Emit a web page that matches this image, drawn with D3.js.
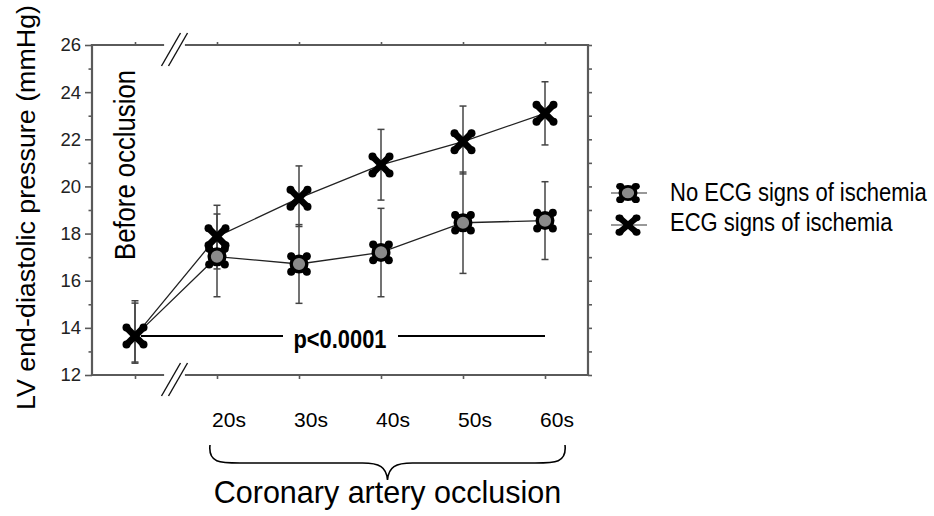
<!DOCTYPE html>
<html>
<head>
<meta charset="utf-8">
<script src="https://cdn.jsdelivr.net/npm/d3@7"></script>
<style>
  html, body { margin: 0; padding: 0; background: #fff; }
  svg { display: block; font-family: "Liberation Sans", Arial, Helvetica, sans-serif; }
</style>
</head>
<body>
<svg id="chart" width="934" height="516"></svg>
<script>
// Time points: baseline before occlusion, then seconds into coronary occlusion
const timepoints = ["Before", "20s", "30s", "40s", "50s", "60s"];
const timeLabels = ["20s", "30s", "40s", "50s", "60s"];

// LV end-diastolic pressure (mmHg), mean with error-bar limits
const noIschemiaMean = [13.65, 17.02, 16.71, 17.20, 18.46, 18.55];
const noIschemiaLow  = [12.55, 15.32, 15.04, 15.32, 16.31, 16.90];
const noIschemiaHigh = [15.05, 18.83, 18.38, 19.07, 20.61, 20.20];

const ischemiaMean = [13.65, 17.87, 19.50, 20.91, 21.90, 23.10];
const ischemiaLow  = [12.50, 16.50, 18.30, 19.42, 20.53, 21.76];
const ischemiaHigh = [15.15, 19.20, 20.87, 22.42, 23.41, 24.44];

const yMajorTicks = [12, 14, 16, 18, 20, 22, 24, 26];
const yMinorTicks = [13, 15, 17, 19, 21, 23, 25];

const seriesNames = ["No ECG signs of ischemia", "ECG signs of ischemia"];
const pLabel = "p<0.0001";

(function () {
const svg = d3.select("#chart");
const FONT = '"Liberation Sans", Arial, Helvetica, sans-serif';

const plotL = 92, plotR = 588, plotT = 45, plotB = 375;
const x = d3.scalePoint().domain(timepoints).range([135, 545]);
const y = d3.scaleLinear().domain([12, 26]).range([plotB, plotT]);

const axisColor = "#5a5a5a";

// ---- frame and axes ----
const gAxes = svg.append("g");

// left axis: major + minor ticks, outward
const leftMajor = gAxes.append("g").attr("transform", `translate(${plotL},0)`)
  .call(d3.axisLeft(y).tickValues(yMajorTicks).tickSize(7).tickPadding(4));
leftMajor.selectAll("text").attr("font-size", 18.5).attr("fill", "#222").attr("font-family", FONT);
const leftMinor = gAxes.append("g").attr("transform", `translate(${plotL},0)`)
  .call(d3.axisLeft(y).tickValues(yMinorTicks).tickSize(3.5).tickFormat(""));

// right axis: ticks at every unit, outward
const rightAx = gAxes.append("g").attr("transform", `translate(${plotR},0)`)
  .call(d3.axisRight(y).tickValues(yMajorTicks.concat(yMinorTicks)).tickSize(4).tickFormat(""));

// bottom and top ticks at each time point
const bottomAx = gAxes.append("g").attr("transform", `translate(0,${plotB})`)
  .call(d3.axisBottom(x).tickSize(4).tickFormat(""));
const topAx = gAxes.append("g").attr("transform", `translate(0,${plotT})`)
  .call(d3.axisTop(x).tickSize(3).tickFormat(""));

[leftMajor, leftMinor, rightAx, bottomAx, topAx].forEach(g => {
  g.select(".domain").remove();
  g.selectAll(".tick line").attr("stroke", axisColor).attr("stroke-width", 1.6);
});

// axis lines (horizontal ones broken between baseline and occlusion)
const breakL = 163, breakR = 186;
const frameLines = [
  [plotL, plotT, plotL, plotB],
  [plotR, plotT, plotR, plotB],
  [plotL, plotT, breakL, plotT], [breakR, plotT, plotR, plotT],
  [plotL, plotB, breakL, plotB], [breakR, plotB, plotR, plotB]
];
gAxes.selectAll("line.frame").data(frameLines).join("line")
  .attr("class", "frame")
  .attr("x1", d => d[0]).attr("y1", d => d[1])
  .attr("x2", d => d[2]).attr("y2", d => d[3])
  .attr("stroke", axisColor).attr("stroke-width", 2.2).attr("stroke-linecap", "square");

// break marks "//"
[plotT, plotB].forEach(yy => {
  [0, 7].forEach(off => {
    gAxes.append("line")
      .attr("x1", 161.5 + off).attr("y1", yy + 21)
      .attr("x2", 180.5 + off).attr("y2", yy - 12)
      .attr("stroke", "#111").attr("stroke-width", 1.4);
  });
});

// ---- data layer ----
const gData = svg.append("g");
const lineGen = d3.line().x((d, i) => x(timepoints[i])).y(d => y(d));

// error bars
function errorBars(low, high) {
  const g = gData.append("g");
  timepoints.forEach((t, i) => {
    const cx = x(t);
    g.append("line").attr("x1", cx).attr("x2", cx)
      .attr("y1", y(low[i])).attr("y2", y(high[i]))
      .attr("stroke", "#444").attr("stroke-width", 1.5);
    [low[i], high[i]].forEach(v => {
      g.append("line").attr("x1", cx - 3.5).attr("x2", cx + 3.5)
        .attr("y1", y(v)).attr("y2", y(v))
        .attr("stroke", "#444").attr("stroke-width", 1.5);
    });
  });
}
errorBars(noIschemiaLow, noIschemiaHigh);
errorBars(ischemiaLow, ischemiaHigh);

// connecting lines
gData.append("path").datum(noIschemiaMean).attr("d", lineGen)
  .attr("fill", "none").attr("stroke", "#222").attr("stroke-width", 1.3);
gData.append("path").datum(ischemiaMean).attr("d", lineGen)
  .attr("fill", "none").attr("stroke", "#222").attr("stroke-width", 1.3);

// significance line with p-value
const pY = y(ischemiaMean[0]);
const pMid = (x(timepoints[0]) + x(timepoints[timepoints.length - 1])) / 2;
gData.append("line").attr("x1", x(timepoints[0]) + 6).attr("x2", pMid - 57)
  .attr("y1", pY).attr("y2", pY).attr("stroke", "#000").attr("stroke-width", 2);
gData.append("line").attr("x1", pMid + 58).attr("x2", x(timepoints[timepoints.length - 1]))
  .attr("y1", pY).attr("y2", pY).attr("stroke", "#000").attr("stroke-width", 2);
gData.append("text").attr("x", pMid - 46.5).attr("y", pY + 12)
  .attr("font-size", 26).attr("font-weight", "bold").attr("font-family", FONT)
  .attr("textLength", 93).attr("lengthAdjust", "spacingAndGlyphs")
  .text(pLabel);

// markers: bold cross with rounded, slightly swollen ends
function drawCross(g, r) {
  [[-r, -r, r, r], [-r, r, r, -r]].forEach(s => {
    g.append("line").attr("x1", s[0]).attr("y1", s[1]).attr("x2", s[2]).attr("y2", s[3])
      .attr("stroke", "#000").attr("stroke-width", 6.5).attr("stroke-linecap", "round");
  });
  [[-r, -r], [r, r], [-r, r], [r, -r]].forEach(p => {
    g.append("circle").attr("cx", p[0]).attr("cy", p[1]).attr("r", 4).attr("fill", "#000");
  });
}
function drawCircleMarker(g, r) {
  drawCross(g, r * 0.92);
  g.append("circle").attr("r", 7.8).attr("fill", "#8a8a8a")
    .attr("stroke", "#000").attr("stroke-width", 3.4);
}

noIschemiaMean.forEach((v, i) => {
  if (i === 0) return; // shared baseline shown by the cross marker
  const g = gData.append("g").attr("transform", `translate(${x(timepoints[i])},${y(v)})`);
  drawCircleMarker(g, 8.5);
});
ischemiaMean.forEach((v, i) => {
  const g = gData.append("g").attr("transform", `translate(${x(timepoints[i])},${y(v)})`);
  drawCross(g, 8.5);
});

// ---- text ----
svg.append("text")
  .attr("transform", "translate(135,260) rotate(-90)")
  .attr("font-size", 29).attr("font-family", FONT)
  .attr("textLength", 190).attr("lengthAdjust", "spacingAndGlyphs")
  .text("Before occlusion");

svg.append("text")
  .attr("transform", "translate(35,410) rotate(-90)")
  .attr("font-size", 26.5).attr("font-family", FONT)
  .attr("textLength", 405).attr("lengthAdjust", "spacingAndGlyphs")
  .text("LV end-diastolic pressure (mmHg)");

svg.selectAll("text.time").data(timeLabels).join("text")
  .attr("class", "time")
  .attr("x", d => x(d) + 12).attr("y", 427)
  .attr("text-anchor", "middle")
  .attr("font-size", 21).attr("font-family", FONT)
  .text(d => d);

// brace under the occlusion time points
const bL = x(timeLabels[0]) - 7, bR = x(timeLabels[timeLabels.length - 1]) + 20;
const bMid = (bL + bR) / 2, bTop = 445, bLine = 463, bTip = 480;
const brace = d3.path();
brace.moveTo(bL, bTop);
brace.bezierCurveTo(bL - 2, bLine, bL + 10, bLine, bL + 30, bLine);
brace.lineTo(bMid - 25, bLine);
brace.bezierCurveTo(bMid - 8, bLine, bMid - 1, bLine + 4, bMid, bTip);
brace.bezierCurveTo(bMid + 1, bLine + 4, bMid + 8, bLine, bMid + 25, bLine);
brace.lineTo(bR - 30, bLine);
brace.bezierCurveTo(bR - 10, bLine, bR + 2, bLine, bR, bTop);
svg.append("path").attr("d", brace.toString())
  .attr("fill", "none").attr("stroke", "#000").attr("stroke-width", 1.6);

svg.append("text")
  .attr("x", bMid).attr("y", 503).attr("text-anchor", "middle")
  .attr("font-size", 30.5).attr("font-family", FONT)
  .text("Coronary artery occlusion");

// ---- legend ----
const legend = svg.append("g");
const legendY = [193, 225];
legendY.forEach((ly, i) => {
  legend.append("line").attr("x1", 611).attr("x2", 647).attr("y1", ly).attr("y2", ly)
    .attr("stroke", "#777").attr("stroke-width", 1.5);
  const g = legend.append("g").attr("transform", `translate(628,${ly}) scale(1,0.85)`);
  if (i === 0) drawCircleMarker(g, 8.5); else drawCross(g, 8.5);
});
// condensed-looking legend text: natural width, stretched vertically
legend.selectAll("text.leg").data(seriesNames).join("text")
  .attr("class", "leg")
  .attr("transform", (d, i) => `translate(670,${[200.5, 231][i]}) scale(1,1.16)`)
  .attr("font-size", 22).attr("font-family", FONT)
  .text(d => d);
})();
</script>
</body>
</html>
